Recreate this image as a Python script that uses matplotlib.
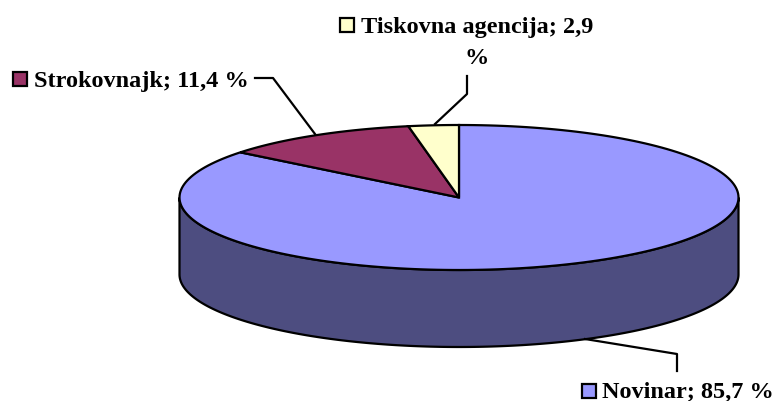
import numpy as np
import matplotlib
matplotlib.use("Agg")
import matplotlib.pyplot as plt
from matplotlib.patches import Polygon

plt.rcParams['font.family'] = ['Liberation Serif', 'DejaVu Serif']

categories = ['Novinar', 'Strokovnajk', 'Tiskovna agencija']
values = [85.7, 11.4, 2.9]
top_colors = ['#9999FF', '#993366', '#FFFFCC']
side_color = '#4D4D80'

# ellipse of the top face, in pixels of the picture
cx, cy = 459, 197.5
rx, ry = 279.5, 72.5
depth = 77
line_w = 1.6


def rim(frac_start, frac_end, n=200):
    """Points on the top ellipse, clockwise from 12 o'clock."""
    t = np.linspace(frac_start, frac_end, n) * 2 * np.pi
    return np.column_stack([cx + rx * np.sin(t), cy - ry * np.cos(t)])


def main():
    fig = plt.figure(figsize=(7.74, 4.01), dpi=100)
    ax = fig.add_axes([0, 0, 1, 1])
    ax.set_xlim(0, 774)
    ax.set_ylim(401, 0)
    ax.axis('off')

    # side wall, visible front half only
    front = rim(0.25, 0.75)
    wall = np.vstack([front, front[::-1] + [0, depth]])
    ax.add_patch(Polygon(wall, closed=True, fc=side_color, ec='black', lw=line_w, zorder=1))

    # top face wedges
    total = sum(values)
    start = 0.0
    for v, c in zip(values, top_colors):
        end = start + v / total
        pts = np.vstack([[cx, cy], rim(start, end)])
        ax.add_patch(Polygon(pts, closed=True, fc=c, ec='black', lw=line_w, zorder=2))
        start = end

    # leader lines
    ax.plot([255, 273, 315], [78, 78, 134], color='black', lw=line_w, zorder=3)
    ax.plot([467, 467, 435], [76, 94, 124], color='black', lw=line_w, zorder=3)
    ax.plot([585, 677, 677], [339, 354, 371], color='black', lw=line_w, zorder=3)

    # labels with their colour keys
    font = dict(fontsize=17.5, fontweight='bold', color='black', va='center', zorder=4)
    ax.text(34, 81.5, 'Strokovnajk; 11,4 %', **font)
    ax.text(361, 27.5, 'Tiskovna agencija; 2,9', **font)
    ax.text(477, 59, '%', ha='center', **font)
    ax.text(602, 392, 'Novinar; 85,7 %', **font)
    for (kx, ky), c in zip([(589, 391), (20, 79), (347, 25)], top_colors):
        ax.plot([kx], [ky], marker='s', ms=10.5, mfc=c, mec='black', mew=1.6, zorder=4)

    fig.savefig('out.png', dpi=100, facecolor='white')


if __name__ == "__main__":
    main()
